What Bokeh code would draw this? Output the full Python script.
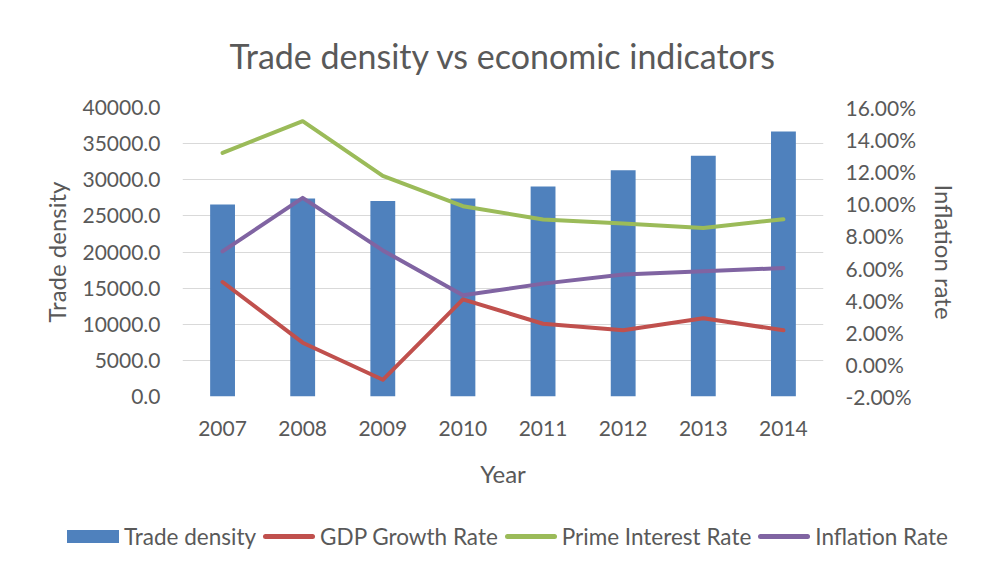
from bokeh.plotting import figure
from bokeh.layouts import column
from bokeh.models import (Range1d, FactorRange, LinearAxis, Div,
                          SingleIntervalTicker, NumeralTickFormatter, PrintfTickFormatter)
from bokeh.embed import file_html
from bokeh.resources import INLINE

years = ["2007", "2008", "2009", "2010", "2011", "2012", "2013", "2014"]
trade_density = [26570, 27400, 27070, 27400, 29060, 31320, 33310, 36690]
gdp_growth = [5.13, 1.35, -0.96, 4.05, 2.53, 2.12, 2.88, 2.12]
prime_rate = [13.17, 15.15, 11.74, 9.85, 9.02, 8.77, 8.50, 9.04]
inflation = [7.04, 10.37, 7.10, 4.30, 5.03, 5.60, 5.80, 6.00]
series_names = ["Trade density", "GDP Growth Rate", "Prime Interest Rate", "Inflation Rate"]
series_colors = ["#4F81BD", "#C0504D", "#9BBB59", "#8064A2"]

FONT = "Lato"
GREY = "#595959"

p = figure(frame_width=641, frame_height=289, x_range=FactorRange(*years, range_padding=0),
           y_range=Range1d(0, 40000), output_backend="svg", toolbar_location=None,
           min_border_left=182, min_border_right=155, min_border_top=107, min_border_bottom=100,
           title="Trade density vs economic indicators")
p.extra_y_ranges = {"pct": Range1d(-2, 16)}

p.title.align = "center"
p.title.text_font = FONT
p.title.text_font_size = "34px"
p.title.text_font_style = "normal"
p.title.text_color = GREY
p.title.standoff = 64

p.outline_line_color = None
p.xgrid.grid_line_color = None
p.ygrid.grid_line_color = "#d9d9d9"
p.ygrid.grid_line_width = 1

p.vbar(x=years, top=trade_density, width=0.31, color=series_colors[0], line_color=None)
p.line(years, gdp_growth, y_range_name="pct", line_color=series_colors[1], line_width=4,
       line_join="round", line_cap="round")
p.line(years, prime_rate, y_range_name="pct", line_color=series_colors[2], line_width=4,
       line_join="round", line_cap="round")
p.line(years, inflation, y_range_name="pct", line_color=series_colors[3], line_width=4,
       line_join="round", line_cap="round")

def style_axis(ax):
    ax.axis_line_color = None
    ax.major_tick_line_color = None
    ax.minor_tick_line_color = None
    ax.major_label_text_font = FONT
    ax.major_label_text_font_size = "21px"
    ax.major_label_text_color = GREY
    ax.axis_label_text_font = FONT
    ax.axis_label_text_font_size = "24px"
    ax.axis_label_text_font_style = "normal"
    ax.axis_label_text_color = GREY

yl = p.yaxis[0]
yl.ticker = SingleIntervalTicker(interval=5000)
yl.formatter = NumeralTickFormatter(format="0.0")
yl.axis_label = "Trade density"
yl.major_label_standoff = 16
yl.axis_label_standoff = 8
style_axis(yl)

yr = LinearAxis(y_range_name="pct", ticker=SingleIntervalTicker(interval=2),
                formatter=PrintfTickFormatter(format="%.2f%%"), axis_label="Inflation rate")
yr.major_label_standoff = 16
yr.axis_label_standoff = 11
style_axis(yr)
p.add_layout(yr, "right")

xa = p.xaxis[0]
xa.axis_label = "Year"
xa.major_label_standoff = 18
xa.axis_label_standoff = 20
style_axis(xa)

# legend row below the chart
items = []
for i, (name, col) in enumerate(zip(series_names, series_colors)):
    if i == 0:
        key = ('<span style="display:inline-block;width:52px;height:13px;'
               f'background:{col};margin-right:5px;"></span>')
    else:
        key = ('<span style="display:inline-block;width:52px;height:5px;border-radius:3px;'
               f'background:{col};margin-right:5px;"></span>')
    items.append(f'<span style="display:inline-flex;align-items:center;margin-right:7px;">'
                 f'{key}<span>{name}</span></span>')
legend_html = ('<div style="display:flex;align-items:center;white-space:nowrap;'
               f'font-family:Lato;font-size:22.5px;color:{GREY};'
               'padding-left:67px;padding-top:27px;line-height:27px;">'
               + "".join(items) + '</div>')
legend_div = Div(text=legend_html, width=978, height=70, margin=0)

layout = column(p, legend_div, spacing=0)
open("out.html", "w").write(file_html(layout, INLINE))
